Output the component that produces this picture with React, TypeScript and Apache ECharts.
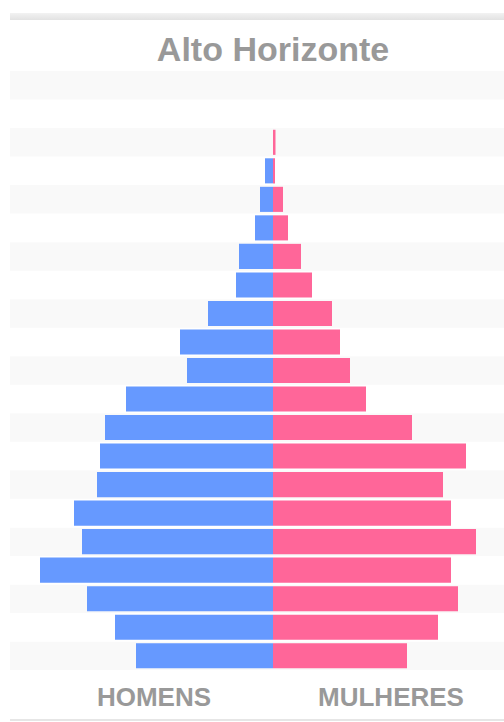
import React, { useEffect, useRef } from "react";
import * as echarts from "echarts";

const ageGroups = [
  "0-4", "5-9", "10-14", "15-19", "20-24", "25-29", "30-34", "35-39", "40-44",
  "45-49", "50-54", "55-59", "60-64", "65-69", "70-74", "75-79", "80-84",
  "85-89", "90-94", "95-99", "100+",
];
const homens = [137, 158, 186, 233, 191, 199, 176, 173, 168, 147, 86, 93, 65, 37, 34, 18, 13, 8, 0, 0, 0];
const mulheres = [134, 165, 185, 178, 203, 178, 170, 193, 139, 93, 77, 67, 59, 39, 28, 15, 10, 2, 2.5, 0, 0];

const titleText = "Alto Horizonte";
const leftLabel = "HOMENS";
const rightLabel = "MULHERES";

export default function App() {
  const ref = useRef<HTMLDivElement>(null);
  useEffect(() => {
    if (!ref.current) return;
    const chart = echarts.init(ref.current, undefined, { renderer: "svg" });
    chart.setOption({
      animation: false,
      backgroundColor: "#ffffff",
      grid: { left: 10, top: 71, right: 0, height: 599, containLabel: false },
      xAxis: {
        type: "value",
        min: -263,
        max: 231,
        show: false,
      },
      yAxis: {
        type: "category",
        data: ageGroups,
        axisLine: { show: false },
        axisTick: { show: false },
        axisLabel: { show: false },
        splitLine: { show: false },
        splitArea: { show: true, areaStyle: { color: ["#f9f9f9", "#ffffff"] } },
      },
      series: [
        {
          name: leftLabel,
          type: "bar",
          stack: "total",
          barCategoryGap: "12%",
          data: homens.map((v) => -v),
          itemStyle: { color: "#6699ff" },
        },
        {
          name: rightLabel,
          type: "bar",
          stack: "total",
          barCategoryGap: "12%",
          data: mulheres,
          itemStyle: { color: "#ff6699" },
        },
      ],
      graphic: [
        {
          type: "rect",
          shape: { x: 10, y: 13, width: 494, height: 7 },
          style: {
            fill: new echarts.graphic.LinearGradient(0, 0, 0, 1, [
              { offset: 0, color: "#f2f2f2" },
              { offset: 1, color: "#e2e2e2" },
            ]),
          },
          silent: true,
        },
        {
          type: "rect",
          shape: { x: 10, y: 719, width: 494, height: 2 },
          style: { fill: "#e6e6e6" },
          silent: true,
        },
        {
          type: "text",
          x: 273,
          y: 49,
          style: {
            text: titleText,
            fill: "#999999",
            font: "bold 34px 'Liberation Sans', Arial, sans-serif",
            align: "center",
            verticalAlign: "middle",
          },
        },
        {
          type: "text",
          x: 154,
          y: 697,
          style: {
            text: leftLabel,
            fill: "#999999",
            font: "bold 26px 'Liberation Sans', Arial, sans-serif",
            align: "center",
            verticalAlign: "middle",
          },
        },
        {
          type: "text",
          x: 391,
          y: 697,
          style: {
            text: rightLabel,
            fill: "#999999",
            font: "bold 26px 'Liberation Sans', Arial, sans-serif",
            align: "center",
            verticalAlign: "middle",
          },
        },
      ],
    });
    return () => chart.dispose();
  }, []);
  return (
    <div
      ref={ref}
      style={{ position: "absolute", left: 0, top: 0, width: 504, height: 722 }}
    />
  );
}
